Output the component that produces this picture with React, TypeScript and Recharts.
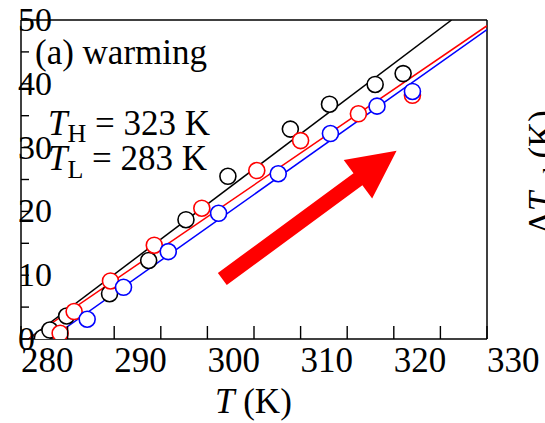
import React from "react";
import {
  ComposedChart,
  Line,
  Scatter,
  XAxis,
  YAxis,
  ReferenceLine,
  Customized,
} from "recharts";

// measured points (T in K, value on left axis)
const blackT = [282.3, 283.1, 284.9, 289.5, 293.7, 297.7, 302.2, 308.9, 313.1, 318.0, 321.0];
const blackV = [0.2, 1.4, 3.6, 7.1, 12.3, 18.7, 25.5, 32.9, 36.8, 39.9, 41.6];
const redT = [284.2, 285.7, 289.6, 294.3, 299.4, 305.3, 310.0, 316.2, 322.0];
const redV = [0.9, 4.3, 9.1, 14.7, 20.5, 26.4, 31.1, 35.3, 38.2];
const blueT = [287.1, 291.0, 295.8, 301.2, 307.6, 313.2, 318.2, 322.0];
const blueV = [3.1, 8.1, 13.7, 19.7, 25.9, 32.2, 36.5, 38.8];

// linear fits, given by their two end points
const blackFitT = [280.8, 326.2];
const blackFitV = [0, 50];
const redFitT = [280.8, 330];
const redFitV = [0, 49.1];
const blueFitT = [283.1, 330];
const blueFitV = [0, 48.5];

const xTicks = [280, 285, 290, 295, 300, 305, 310, 315, 320, 325, 330];
const yTicks = [0, 5, 10, 15, 20, 25, 30, 35, 40, 45, 50];

const W = 545;
const H = 423;
const XAXIS_H = 30;
const YAXIS_W = 20;
const M = { top: 20, right: 58, bottom: 84 - XAXIS_H, left: 21 - YAXIS_W };
const FONT = "'Liberation Serif', 'Times New Roman', serif";
const plotLeft = 21;
const plotBottom = 339;
const plotRight = W - M.right;

const pts = (ts: number[], vs: number[]) => ts.map((t, i) => ({ t, v: vs[i] }));

const px = (t: number) => plotLeft + ((t - 280) / 50) * (plotRight - plotLeft);
const py = (v: number) => plotBottom - (v / 50) * (plotBottom - M.top);

const ring = (color: string) => (p: any) => (
  <circle cx={p.cx} cy={p.cy} r={8} fill="#fff" stroke={color} strokeWidth={1.6} />
);

const XTick = (p: any) => {
  const v = p.payload.value;
  return (
    <g>
      <line x1={p.x} x2={p.x} y1={plotBottom} y2={plotBottom - 13} stroke="#000" strokeWidth={1.4} />
      {v % 10 === 0 && (
        <text x={p.x} y={plotBottom + 33} fontSize={35} fontFamily={FONT} fill="#000" textAnchor="start">
          {v}
        </text>
      )}
    </g>
  );
};

const YTick = (p: any) => {
  const v = p.payload.value;
  return (
    <g>
      <line x1={plotLeft} x2={plotLeft + 8} y1={p.y} y2={p.y} stroke="#000" strokeWidth={1.4} />
      {v % 10 === 0 && (
        <text x={plotLeft - 3} y={p.y + 11} fontSize={34} fontFamily={FONT} fill="#000" textAnchor="start">
          {v}
        </text>
      )}
    </g>
  );
};

function Annotations() {
  // arrow in data coordinates
  const x0 = px(301.6), y0 = py(9.4);
  const x1 = px(320.3), y1 = py(29.5);
  const dx = x1 - x0, dy = y1 - y0;
  const len = Math.hypot(dx, dy);
  const ux = dx / len, uy = dy / len;
  const nx = -uy, ny = ux;
  const sw = 7.5, hw = 24, hl = 48;
  const bx = x1 - ux * hl, by = y1 - uy * hl;
  const arrow = [
    [x0 + nx * sw, y0 + ny * sw],
    [bx + nx * sw, by + ny * sw],
    [bx + nx * hw, by + ny * hw],
    [x1, y1],
    [bx - nx * hw, by - ny * hw],
    [bx - nx * sw, by - ny * sw],
    [x0 - nx * sw, y0 - ny * sw],
  ]
    .map((q) => q.join(","))
    .join(" ");

  return (
    <g fontFamily={FONT} fill="#000">
      <polygon points={arrow} fill="#ff0000" />
      <text x={35} y={64} fontSize={35}>(a) warming</text>
      <text x={48} y={135} fontSize={35}>
        <tspan fontStyle="italic">T</tspan>
        <tspan fontSize={26} dy={7}>H</tspan>
        <tspan dy={-7}> = 323 K</tspan>
      </text>
      <text x={48} y={170} fontSize={35}>
        <tspan fontStyle="italic">T</tspan>
        <tspan fontSize={26} dy={8}>L</tspan>
        <tspan dy={-8}> = 283 K</tspan>
      </text>
      <text x={215} y={413} fontSize={35}>
        <tspan fontStyle="italic">T</tspan> (K)
      </text>
      {/* axis title of the neighbouring panel, cut by the right edge */}
      <text transform="translate(553,110) rotate(-90)" fontSize={35} textAnchor="end">
        Δ<tspan fontStyle="italic">T</tspan>
        <tspan fontSize={26} dy={7}>ad</tspan>
        <tspan dy={-7}> (K)</tspan>
      </text>
    </g>
  );
}

export default function App() {
  return (
    <div style={{ position: "absolute", left: 0, top: 0, width: W, height: H, background: "#fff" }}>
      <ComposedChart width={W} height={H} margin={M}>
        <XAxis
          type="number"
          dataKey="t"
          domain={[280, 330]}
          ticks={xTicks}
          interval={0}
          height={XAXIS_H}
          allowDataOverflow
          axisLine={{ stroke: "#000", strokeWidth: 1.5 }}
          tickLine={false}
          tick={<XTick />}
        />
        <YAxis
          type="number"
          dataKey="v"
          domain={[0, 50]}
          ticks={yTicks}
          interval={0}
          width={YAXIS_W}
          allowDataOverflow
          axisLine={{ stroke: "#000", strokeWidth: 1.5 }}
          tickLine={false}
          tick={<YTick />}
        />
        <ReferenceLine y={50} stroke="#000" strokeWidth={1.5} />
        <ReferenceLine x={330} stroke="#000" strokeWidth={1.5} />
        <Line data={pts(blackFitT, blackFitV)} dataKey="v" stroke="#000" strokeWidth={1.5} dot={false} isAnimationActive={false} />
        <Line data={pts(redFitT, redFitV)} dataKey="v" stroke="#ff0000" strokeWidth={1.5} dot={false} isAnimationActive={false} />
        <Line data={pts(blueFitT, blueFitV)} dataKey="v" stroke="#0000ff" strokeWidth={1.5} dot={false} isAnimationActive={false} />
        <Scatter data={pts(blackT, blackV)} dataKey="v" shape={ring("#000")} isAnimationActive={false} />
        <Scatter data={pts(redT, redV)} dataKey="v" shape={ring("#ff0000")} isAnimationActive={false} />
        <Scatter data={pts(blueT, blueV)} dataKey="v" shape={ring("#0000ff")} isAnimationActive={false} />
        <Customized component={<Annotations />} />
      </ComposedChart>
    </div>
  );
}
